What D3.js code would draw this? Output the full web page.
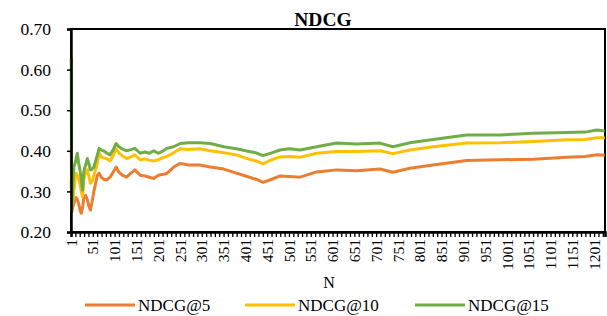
<!DOCTYPE html>
<html>
<head>
<meta charset="utf-8">
<script src="https://cdn.jsdelivr.net/npm/d3@7"></script>
<style>
  html, body { margin: 0; padding: 0; background: #fff; }
  svg { display: block; }
  svg text { font-family: "Liberation Serif", "Times New Roman", serif !important; fill: #000; }
</style>
</head>
<body>
<script>
// ---- data ----
const nCategories = 1225;
const sampleN = [1, 2, 4, 7, 10, 12, 15, 18, 21, 24, 27, 30, 34, 38, 41, 45, 49, 53, 57, 61, 65, 70, 75, 82, 90, 96, 104, 110, 118, 128, 138, 147, 159, 170, 180, 190, 201, 212, 220, 236, 251, 270, 296, 320, 351, 380, 401, 425, 441, 461, 480, 501, 526, 564, 610, 656, 709, 739, 778, 831, 908, 985, 1061, 1138, 1180, 1207, 1225];
const ndcg15 = [0.63, 0.25, 0.30, 0.36, 0.37, 0.38, 0.394, 0.37, 0.353, 0.33, 0.303, 0.35, 0.365, 0.381, 0.37, 0.353, 0.355, 0.36, 0.375, 0.39, 0.406, 0.402, 0.40, 0.395, 0.39, 0.40, 0.418, 0.41, 0.405, 0.40, 0.403, 0.406, 0.394, 0.397, 0.394, 0.40, 0.394, 0.40, 0.406, 0.41, 0.418, 0.42, 0.42, 0.418, 0.41, 0.405, 0.40, 0.395, 0.388, 0.395, 0.402, 0.405, 0.402, 0.41, 0.419, 0.417, 0.419, 0.41, 0.42, 0.428, 0.439, 0.439, 0.443, 0.445, 0.446, 0.451, 0.449];
const ndcg10 = [0.40, 0.27, 0.27, 0.30, 0.33, 0.345, 0.34, 0.33, 0.32, 0.30, 0.287, 0.33, 0.345, 0.353, 0.34, 0.32, 0.325, 0.34, 0.355, 0.37, 0.394, 0.385, 0.383, 0.381, 0.375, 0.385, 0.405, 0.395, 0.388, 0.381, 0.385, 0.39, 0.378, 0.38, 0.377, 0.375, 0.378, 0.383, 0.386, 0.395, 0.405, 0.403, 0.405, 0.40, 0.395, 0.39, 0.382, 0.375, 0.368, 0.378, 0.385, 0.386, 0.384, 0.394, 0.398, 0.398, 0.40, 0.393, 0.402, 0.41, 0.419, 0.42, 0.423, 0.427, 0.428, 0.432, 0.432];
const ndcg5 = [0.33, 0.25, 0.26, 0.27, 0.28, 0.285, 0.28, 0.27, 0.255, 0.246, 0.26, 0.285, 0.29, 0.28, 0.265, 0.254, 0.275, 0.30, 0.32, 0.34, 0.345, 0.335, 0.33, 0.328, 0.335, 0.345, 0.36, 0.348, 0.34, 0.335, 0.345, 0.353, 0.34, 0.338, 0.335, 0.332, 0.34, 0.342, 0.344, 0.36, 0.369, 0.365, 0.365, 0.36, 0.355, 0.345, 0.338, 0.33, 0.322, 0.33, 0.338, 0.337, 0.335, 0.348, 0.353, 0.351, 0.355, 0.347, 0.357, 0.365, 0.376, 0.378, 0.379, 0.384, 0.386, 0.39, 0.389];
const seriesNames = ["NDCG@5", "NDCG@10", "NDCG@15"];
const seriesColors = ["#ED7D31", "#FFC000", "#70AD47"];
const yTicks = [0.20, 0.30, 0.40, 0.50, 0.60, 0.70];
const xTickLabels = ["1", "51", "101", "151", "201", "251", "301", "351", "401", "451", "501", "551", "601", "651", "701", "751", "801", "851", "901", "951", "1001", "1051", "1101", "1151", "1201"];
const chartTitle = "NDCG";
const xTitle = "N";

// ---- layout ----
const W = 607, H = 316;
const mLeft = 71, mRight = 605, mTop = 29, mBottom = 232;
const SERIF = '"Liberation Serif", "Times New Roman", serif';

const svg = d3.select("body").append("svg").attr("width", W).attr("height", H)
  .attr("font-family", SERIF);

const categories = d3.range(1, nCategories + 1).map(String);
const xBand = d3.scaleBand().domain(categories).range([mLeft, mRight]).padding(0);
const xLin = d3.scaleLinear().domain([0, nCategories]).range([mLeft, mRight]);
const xc = n => xBand(String(n)) + xBand.bandwidth() / 2;
const y = d3.scaleLinear().domain([0.2, 0.7]).range([mBottom, mTop]);

// frame (top + right)
svg.append("rect").attr("x", mLeft).attr("y", mTop).attr("width", mRight - mLeft).attr("height", mBottom - mTop)
  .attr("fill", "none").attr("stroke", "#000").attr("stroke-width", 2);

// lines
const seriesData = [ndcg5, ndcg10, ndcg15];
const line = d3.line().x(d => xc(d[0])).y(d => y(d[1]));
seriesData.forEach((vals, i) => {
  svg.append("path")
    .datum(sampleN.map((n, j) => [n, vals[j]]))
    .attr("d", line)
    .attr("fill", "none")
    .attr("stroke", seriesColors[i])
    .attr("stroke-width", 3)
    .attr("stroke-linejoin", "round");
});

// y axis
const yAxis = svg.append("g").attr("transform", `translate(${mLeft},0)`)
  .call(d3.axisLeft(y).tickValues(yTicks).tickFormat(d3.format(".2f")).tickSize(4).tickPadding(16));
yAxis.attr("font-family", SERIF).attr("font-size", 17.5);
yAxis.select(".domain").attr("stroke", "#000").attr("stroke-width", 2.5);
yAxis.selectAll(".tick line").attr("stroke", "#000").attr("stroke-width", 1.5);

// x axis tick marks every 10 categories
const xAxisTicks = svg.append("g").attr("transform", `translate(0,${mBottom})`)
  .call(d3.axisBottom(xLin).tickValues(d3.range(0, nCategories + 1, 10)).tickFormat("").tickSize(5));
xAxisTicks.select(".domain").attr("stroke", "#000").attr("stroke-width", 2.5);
xAxisTicks.selectAll(".tick line").attr("stroke", "#000").attr("stroke-width", 1.3);

// x labels
const xAxisLabels = svg.append("g").attr("transform", `translate(0,${mBottom})`)
  .call(d3.axisBottom(xBand).tickValues(xTickLabels).tickSize(0));
xAxisLabels.attr("font-family", SERIF).attr("font-size", 15.5);
xAxisLabels.select(".domain").remove();
xAxisLabels.selectAll(".tick text")
  .attr("text-anchor", "end")
  .attr("transform", "rotate(-90)")
  .attr("x", -7).attr("y", 0).attr("dy", "0.33em");

// title
svg.append("text").attr("x", 323).attr("y", 26).attr("text-anchor", "middle")
  .attr("font-size", 19.5).attr("font-weight", "bold").text(chartTitle);

// x title
svg.append("text").attr("x", 329).attr("y", 288).attr("text-anchor", "middle")
  .attr("font-size", 16).text(xTitle);

// legend
const legendX = [85, 245, 415];
const legendY = 305;
seriesNames.forEach((name, i) => {
  const g = svg.append("g");
  g.append("line").attr("x1", legendX[i]).attr("x2", legendX[i] + 50)
    .attr("y1", legendY).attr("y2", legendY)
    .attr("stroke", seriesColors[i]).attr("stroke-width", 3);
  g.append("text").attr("x", legendX[i] + 53).attr("y", legendY).attr("dy", "0.35em")
    .attr("font-size", 17).text(name);
});
</script>
</body>
</html>
